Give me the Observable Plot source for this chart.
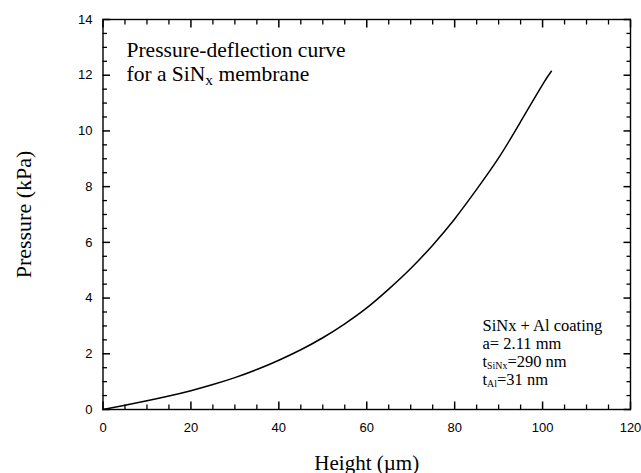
<!DOCTYPE html>
<html>
<head>
<meta charset="utf-8">
<script src="https://cdn.jsdelivr.net/npm/d3@7"></script>
<script src="https://cdn.jsdelivr.net/npm/@observablehq/plot@0.6"></script>
<style>
  html, body { margin: 0; padding: 0; background: #fff; }
</style>
</head>
<body>
<div id="chart"></div>
<script>
// ---- data ----
const heights   = [0, 5, 10, 15, 20, 25, 30, 35, 40, 45, 50, 55, 60, 65, 70, 75, 80, 85, 90, 95, 100, 102];
const pressures = [0, 0.155, 0.315, 0.485, 0.675, 0.895, 1.145, 1.435, 1.77, 2.145, 2.575, 3.075, 3.645, 4.32, 5.06, 5.9, 6.84, 7.9, 9.03, 10.33, 11.66, 12.14];

const xMajorTicks = [0, 20, 40, 60, 80, 100, 120];
const yMajorTicks = [0, 2, 4, 6, 8, 10, 12, 14];
const xMinorTicks = [5, 10, 15, 25, 30, 35, 45, 50, 55, 65, 70, 75, 85, 90, 95, 105, 110, 115];
const yMinorTicks = [0.5, 1, 1.5, 2.5, 3, 3.5, 4.5, 5, 5.5, 6.5, 7, 7.5, 8.5, 9, 9.5, 10.5, 11, 11.5, 12.5, 13, 13.5];

const xLabel = "Height (\u00b5m)";
const yLabel = "Pressure (kPa)";
const titleLines = ["Pressure-deflection curve", "for a SiN_{x} membrane"];
const noteLines = ["SiNx + Al coating", "a= 2.11 mm", "t_{SiNx}=290 nm", "t_{Al}=31 nm"];

const curve = heights.map((h, i) => ({h, p: pressures[i]}));

// ---- layout ----
const W = 641, H = 473;
const serif = "'Liberation Serif', 'Times New Roman', serif";
const noLabel = () => "";

// inward ticks on every side (negative tick size points inside the frame)
function inwardTicks(xs, ys, len, sw) {
  const o = {tickSize: -len, tickFormat: noLabel, label: null, stroke: "#000", strokeWidth: sw};
  return [
    Plot.axisX(xs, {anchor: "bottom", ...o}),
    Plot.axisX(xs, {anchor: "top", ...o}),
    Plot.axisY(ys, {anchor: "left", ...o}),
    Plot.axisY(ys, {anchor: "right", ...o})
  ];
}

const chart = Plot.plot({
  width: W,
  height: H,
  marginLeft: 102.5,
  marginRight: 11,
  marginTop: 19,
  marginBottom: 64,
  style: {fontFamily: "'Liberation Sans', Arial, sans-serif", fontSize: "13px", color: "#000", background: "#fff"},
  x: {domain: [0, 120], label: null},
  y: {domain: [0, 14], label: null},
  marks: [
    Plot.frame({stroke: "#000", strokeWidth: 1.4}),
    ...inwardTicks(xMinorTicks, yMinorTicks, 4.5, 1.3),
    ...inwardTicks(xMajorTicks, yMajorTicks, 7.5, 1.5),
    // tick labels
    Plot.axisX(xMajorTicks, {anchor: "bottom", tickSize: 0, tickPadding: 13.5, fontSize: 13, label: null}),
    Plot.axisY(yMajorTicks, {anchor: "left", tickSize: 0, tickPadding: 10.5, fontSize: 13, label: null}),
    Plot.line(curve, {x: "h", y: "p", stroke: "#000", strokeWidth: 1.5, curve: "natural"}),
    // in-plot title
    Plot.text([titleLines.join("\n")], {
      frameAnchor: "top-left", textAnchor: "start", lineAnchor: "top",
      dx: 23.5, dy: 21.2, lineHeight: 1.084,
      fontFamily: serif, fontSize: 21.5, fill: "#000"
    }),
    // parameter note
    Plot.text([noteLines.join("\n")], {
      frameAnchor: "top-left", textAnchor: "start", lineAnchor: "top",
      dx: 379.5, dy: 299, lineHeight: 1.08,
      fontFamily: serif, fontSize: 16.5, fill: "#000"
    }),
    // axis titles
    Plot.text([xLabel], {
      frameAnchor: "bottom", textAnchor: "middle", lineAnchor: "bottom",
      dy: 60, fontFamily: serif, fontSize: 21, fill: "#000"
    }),
    Plot.text([yLabel], {
      frameAnchor: "left", textAnchor: "middle", lineAnchor: "bottom", rotate: -90,
      dx: -72.5, fontFamily: serif, fontSize: 22, fill: "#000"
    })
  ]
});

// turn "_{...}" markup into real subscript tspans
function applySubscripts(el, scale, shiftFactor) {
  const s = el.textContent;
  if (!s.includes("_{")) return;
  const fs = parseFloat(getComputedStyle(el).fontSize) || 16;
  const shift = shiftFactor * fs;
  el.textContent = "";
  const parts = s.split(/(_\{[^}]*\})/).filter(p => p.length);
  let lowered = false;
  for (const part of parts) {
    const t = document.createElementNS("http://www.w3.org/2000/svg", "tspan");
    if (part.startsWith("_{")) {
      t.textContent = part.slice(2, -1);
      t.setAttribute("font-size", (fs * scale) + "px");
      t.setAttribute("dy", shift + "px");
      lowered = true;
    } else {
      t.textContent = part;
      if (lowered) t.setAttribute("dy", (-shift) + "px");
      lowered = false;
    }
    el.appendChild(t);
  }
}
document.getElementById("chart").appendChild(chart);
d3.select(chart).selectAll("text, tspan").each(function () {
  if (this.querySelector && this.querySelector("tspan")) return;
  const big = parseFloat(getComputedStyle(this).fontSize) > 19;
  if (big) applySubscripts(this, 0.72, 0.2);
  else applySubscripts(this, 0.6, 0.12);
});
</script>
</body>
</html>
